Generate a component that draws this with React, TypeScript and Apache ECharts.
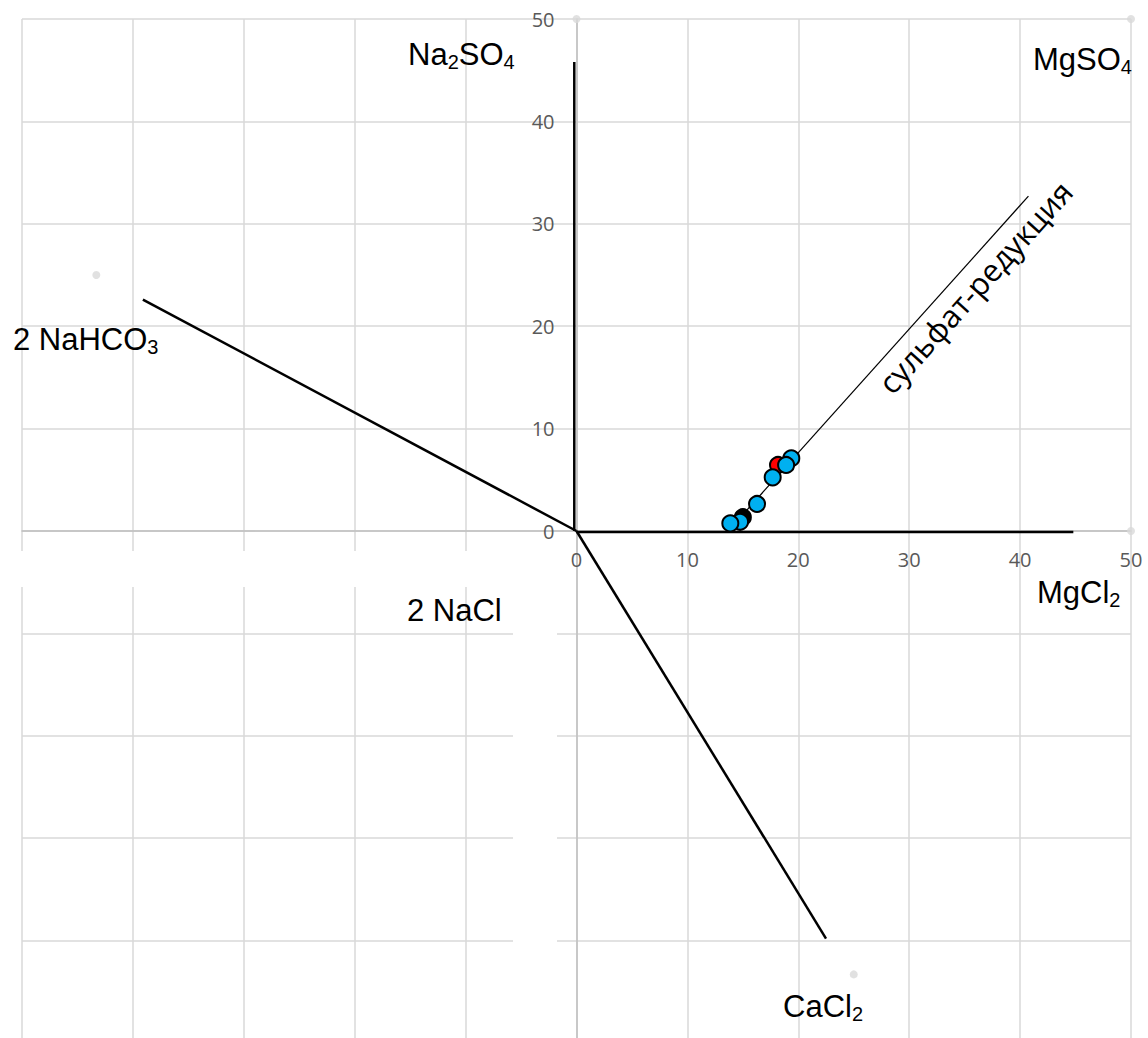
import { useEffect, useRef } from 'react';
import * as echarts from 'echarts';

// ---- data ----
const axisMin = -50;
const axisMax = 50;
const axisStep = 10;

const verticalRay = [[-0.2, 0], [-0.2, 45.8]];
const horizontalRay = [[0, -0.1], [44.8, -0.1]];
const ray150 = [[0, 0], [-39.1, 22.6]];
const rayMinus60 = [[0, 0], [22.5, -39.8]];
const sulfateLine = [[14.5, 1.0], [40.75, 32.7]];

const cornerPoints = [[0, 50], [50, 50], [50, 0], [-43.3, 25], [25, -43.3]];
const blackPoints = [[15.0, 1.35]];
const redPoints = [[18.17, 6.45]];
const bluePoints = [[19.37, 7.1], [18.9, 6.45], [17.69, 5.24], [16.28, 2.64], [14.75, 0.9], [13.87, 0.75]];

const compoundNames = [
  ['Na', '2', 'SO', '4'],
  ['Mg', '', 'SO', '4'],
  ['2 Na', '', 'HCO', '3'],
  ['2 Na', '', 'Cl', ''],
  ['Ca', '', 'Cl', '2'],
  ['Mg', '', 'Cl', '2'],
];
const sulfateText = 'сульфат-редукция';

// ---- layout (pixels) ----
const labelPos = [
  [408, 36],
  [1033, 41],
  [13, 321],
  [407, 592],
  [783, 988],
  [1037, 574],
];

const W = 1148;
const H = 1038;
const GRID_LEFT = 22;
const GRID_RIGHT = 17;
const GRID_TOP = 19;
const GRID_BOTTOM = -5;

function richText(parts: string[]) {
  let s = '';
  if (parts[0]) s += `{a|${parts[0]}}`;
  if (parts[1]) s += `{b|${parts[1]}}`;
  if (parts[2]) s += `{a|${parts[2]}}`;
  if (parts[3]) s += `{b|${parts[3]}}`;
  return s;
}

export default function App() {
  const ref = useRef<HTMLDivElement>(null);
  useEffect(() => {
    if (!ref.current) return;
    const chart = echarts.init(ref.current, undefined, { renderer: 'svg' });
    const plotW = W - GRID_LEFT - GRID_RIGHT;
    const plotH = H - GRID_TOP - GRID_BOTTOM;
    // distance from default axis position to the zero crossing
    const xAxisOffset = -plotH * ((0 - axisMin) / (axisMax - axisMin));
    const yAxisOffset = -plotW * ((0 - axisMin) / (axisMax - axisMin));
    const lineSeries = (data: number[][], width: number) => ({
      type: 'line',
      data,
      symbol: 'none',
      showSymbol: false,
      silent: true,
      z: 3,
      lineStyle: { color: '#000000', width },
    });
    const scatter = (data: number[][], color: string, z: number) => ({
      type: 'scatter',
      data,
      symbolSize: 16,
      z,
      itemStyle: { color, borderColor: '#000000', borderWidth: 2, opacity: 1 },
    });
    const axisCommon = {
      type: 'value',
      min: axisMin,
      max: axisMax,
      interval: axisStep,
      axisLine: { show: true, onZero: false, lineStyle: { color: '#bfbfbf', width: 1.5 } },
      axisTick: { show: false },
      splitLine: { show: true, lineStyle: { color: '#d9d9d9', width: 1.5 } },
    };
    const labelStyle = {
      color: '#595959',
      fontSize: 20,
      fontFamily: 'Open Sans',
      formatter: (v: number) => (v >= 0 ? String(v) : ''),
    };
    const graphics: any[] = [
      { type: 'rect', z: 1, shape: { x: 0, y: 551, width: 557, height: 36 }, style: { fill: '#ffffff' } },
      { type: 'rect', z: 1, shape: { x: 513, y: 551, width: 44, height: H - 551 }, style: { fill: '#ffffff' } },
    ];
    compoundNames.forEach((parts, i) => {
      graphics.push({
        type: 'text',
        z: 10,
        x: labelPos[i][0],
        y: labelPos[i][1],
        style: {
          text: richText(parts),
          align: 'left',
          verticalAlign: 'top',
          rich: {
            a: { fontSize: 31, fontFamily: 'Liberation Sans', color: '#000000', lineHeight: 36 },
            b: { fontSize: 20, fontFamily: 'Liberation Sans', color: '#000000', lineHeight: 12, verticalAlign: 'bottom' },
          },
        },
      });
    });
    graphics.push({
      type: 'text',
      z: 10,
      x: 975,
      y: 287,
      rotation: (48 * Math.PI) / 180,
      style: {
        text: sulfateText,
        fontSize: 31,
        fontFamily: 'Open Sans',
        fill: '#000000',
        align: 'center',
        verticalAlign: 'middle',
      },
    });
    chart.setOption({
      animation: false,
      grid: { left: GRID_LEFT, right: GRID_RIGHT, top: GRID_TOP, bottom: GRID_BOTTOM, containLabel: false, outerBoundsMode: 'none' },
      xAxis: { ...axisCommon, position: 'bottom', offset: xAxisOffset, axisLabel: { ...labelStyle, margin: 18 } },
      yAxis: { ...axisCommon, position: 'left', offset: yAxisOffset, axisLabel: { ...labelStyle, margin: 22 } },
      series: [
        {
          type: 'scatter',
          data: cornerPoints,
          symbolSize: 8,
          z: 2,
          itemStyle: { color: '#d9d9d9' },
        },
        lineSeries(verticalRay, 2.5),
        lineSeries(horizontalRay, 2.5),
        lineSeries(ray150, 2.5),
        lineSeries(rayMinus60, 2.5),
        lineSeries(sulfateLine, 1.2),
        scatter(blackPoints, '#000000', 4),
        scatter(redPoints, '#ff0000', 5),
        scatter(bluePoints, '#00b0f0', 6),
      ],
      graphic: graphics,
    });
    return () => chart.dispose();
  }, []);
  return (
    <div
      ref={ref}
      style={{ position: 'fixed', left: 0, top: 0, width: W, height: H, background: '#ffffff' }}
    />
  );
}
